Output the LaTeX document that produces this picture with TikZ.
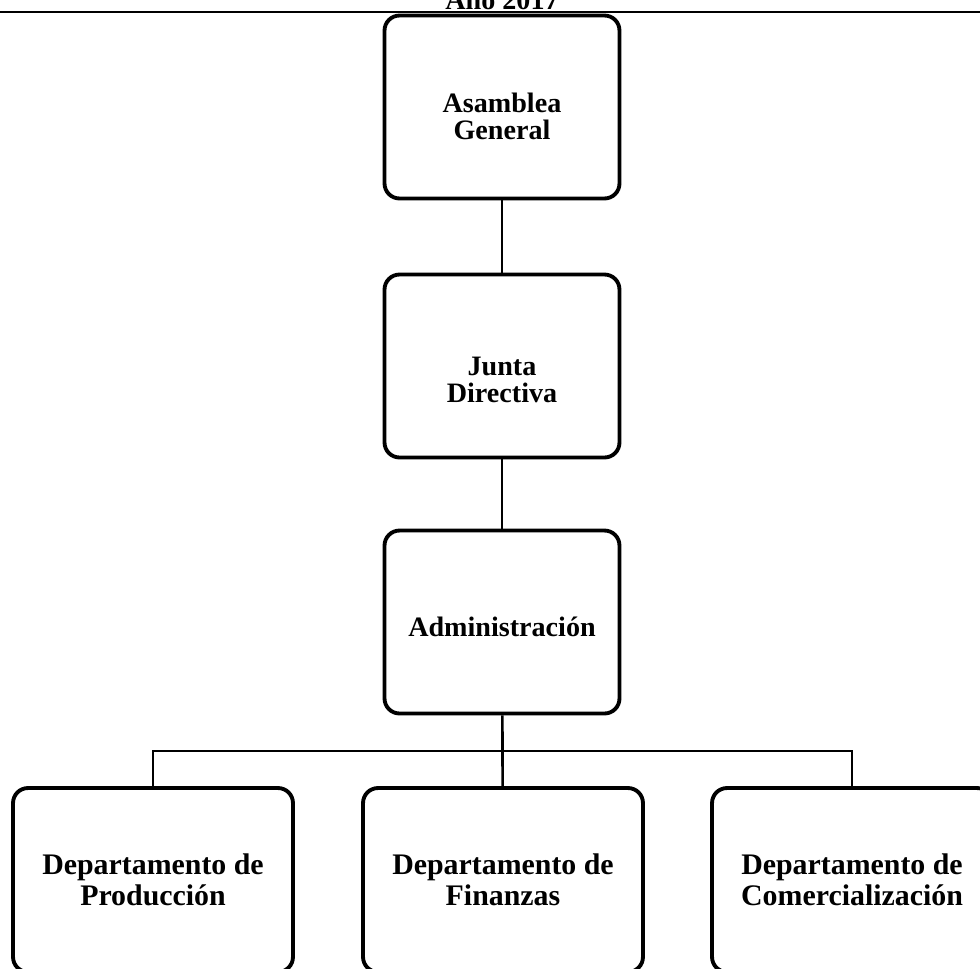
\documentclass[tikz,border=0pt]{standalone}
\usepackage{fontspec}
\setmainfont{Liberation Serif}
\begin{document}
\begin{tikzpicture}[x=0.02cm,y=-0.02cm,
    caja/.style={shape=rectangle,draw=black,line width=2.2pt,rounded corners=0.3cm,
        minimum width=4.7cm,minimum height=3.66cm},
    depto/.style={caja,minimum width=5.6cm,minimum height=3.68cm},
    texto/.style={align=center,font=\bfseries\fontsize{16}{15.5}\selectfont},
    textodepto/.style={align=center,font=\bfseries\fontsize{17}{17.5}\selectfont},
    linea/.style={draw=black,line width=1.5pt}]
    \useasboundingbox (0,0) rectangle (980,968);
    \clip (0,0) rectangle (980,968);
    \node[anchor=base,font=\bfseries\fontsize{16}{18}\selectfont] (titulo) at (502,9) {Año 2017};
    \draw[line width=1pt] (0,12) -- (980,12);
    % cajas
    \node[caja] (AG) at (502,107) {};
    \node[caja] (JD) at (502,366) {};
    \node[caja] (AD) at (502,622) {};
    \node[depto] (DP) at (153,880) {};
    \node[depto] (DF) at (503,880) {};
    \node[depto] (DC) at (852,880) {};
    % textos
    \node[texto] (tAG) at (502,116) {Asamblea\\General};
    \node[texto] (tJD) at (502,380) {Junta\\Directiva};
    \node[texto] (tAD) at (502,627) {Administración};
    \node[textodepto] (tDP) at (153,880) {Departamento de\\Producción};
    \node[textodepto] (tDF) at (503,880) {Departamento de\\Finanzas};
    \node[textodepto] (tDC) at (852,880) {Departamento de\\Comercialización};
    \coordinate (izq) at (153,751);
    \coordinate (der) at (852,751);
    \draw[linea] (AG) -- (JD);
    \draw[linea] (JD) -- (AD);
    \draw[linea] (AD) -- (DF);
    \draw[linea] (DP) -- (izq) -- (der) -- (DC);
\end{tikzpicture}
\end{document}
